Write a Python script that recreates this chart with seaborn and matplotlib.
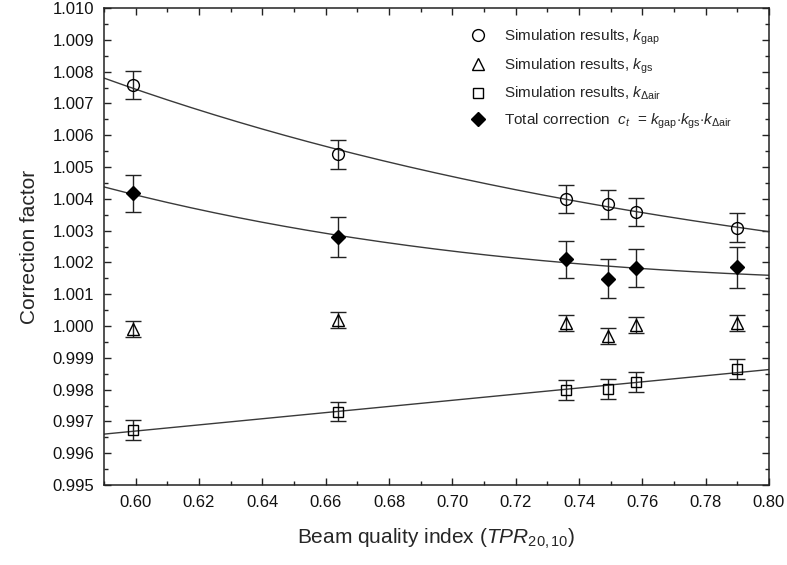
import numpy as np
import seaborn as sns
import matplotlib
matplotlib.use("Agg")
import matplotlib.pyplot as plt
from matplotlib.ticker import MultipleLocator, FormatStrFormatter

# data
tpr = [0.599, 0.664, 0.736, 0.749, 0.758, 0.790]
k_gap = [1.00758, 1.00540, 1.00399, 1.00383, 1.00358, 1.00309]
k_gap_err = [0.00043, 0.00045, 0.00044, 0.00045, 0.00043, 0.00045]
k_gs = [0.99990, 1.00020, 1.00010, 0.99969, 1.00003, 1.00010]
k_gs_err = [0.00025, 0.00025, 0.00026, 0.00026, 0.00026, 0.00026]
k_air = [0.99673, 0.99730, 0.99799, 0.99801, 0.99823, 0.99865]
k_air_err = [0.00030, 0.00030, 0.00031, 0.00031, 0.00031, 0.00031]
c_t = [1.00417, 1.00280, 1.00210, 1.00149, 1.00183, 1.00185]
c_t_err = [0.00057, 0.00062, 0.00058, 0.00062, 0.00059, 0.00064]

sns.set_theme(style="ticks")
plt.rcParams['font.family'] = ['Liberation Sans', 'DejaVu Sans']
plt.rcParams['mathtext.fontset'] = 'custom'
plt.rcParams['mathtext.rm'] = 'Liberation Sans'
plt.rcParams['mathtext.it'] = 'Liberation Sans:italic'
plt.rcParams['mathtext.bf'] = 'Liberation Sans:bold'

# fitted curves: exponential for k_gap, linear for k_air, product for c_t
x_fit = np.linspace(0.59, 0.80, 200)
b, a = np.polyfit(tpr, np.log(np.array(k_gap) - 1), 1)
gap_fit = 1 + np.exp(a + b * x_fit)
air_fit = np.polyval(np.polyfit(tpr, k_air, 1), x_fit)
ct_fit = gap_fit * air_fit * np.mean(k_gs)

fig = plt.figure(figsize=(7.87, 5.65), dpi=100)
ax = fig.add_axes([104 / 787, 1 - 485 / 565, 665 / 787, 477 / 565])

line_col = '#3a3a3a'
for yy in (gap_fit, ct_fit, air_fit):
    sns.lineplot(x=x_fit, y=yy, ax=ax, color=line_col, lw=1.0, zorder=1)

series = [
    (k_gap, k_gap_err, 'o', 'none', 8.5, r'Simulation results, $k_{\mathrm{gap}}$'),
    (k_gs, k_gs_err, '^', 'none', 8.5, r'Simulation results, $k_{\mathrm{gs}}$'),
    (k_air, k_air_err, 's', 'none', 7.5, r'Simulation results, $k_{\Delta\mathrm{air}}$'),
    (c_t, c_t_err, 'D', 'black', 7.0,
     r'Total correction  $c_t$  = $k_{\mathrm{gap}}$$\cdot$$k_{\mathrm{gs}}$$\cdot$$k_{\Delta\mathrm{air}}$'),
]
for vals, err, mk, fc, ms, lab in series:
    ax.errorbar(tpr, vals, yerr=err, fmt='none', ecolor='#222222', elinewidth=1.0,
                capsize=6, capthick=1.0, zorder=2)
    ax.plot(tpr, vals, linestyle='none', marker=mk, markersize=ms, markerfacecolor=fc,
            markeredgecolor='black', markeredgewidth=1.0, label=lab, zorder=3)

ax.set_xlim(0.59, 0.80)
ax.set_ylim(0.995, 1.010)
ax.xaxis.set_major_locator(MultipleLocator(0.02))
ax.xaxis.set_minor_locator(MultipleLocator(0.01))
ax.yaxis.set_major_locator(MultipleLocator(0.001))
ax.yaxis.set_minor_locator(MultipleLocator(0.0005))
ax.xaxis.set_major_formatter(FormatStrFormatter('%.2f'))
ax.yaxis.set_major_formatter(FormatStrFormatter('%.3f'))
ax.tick_params(which='both', direction='in', top=True, right=True, colors='#222222',
               labelcolor='#111111', labelsize=12)
ax.tick_params(which='major', length=5, width=1.0, pad=7)
ax.tick_params(which='minor', length=3, width=1.0)
for sp in ax.spines.values():
    sp.set_linewidth(1.1)
    sp.set_color('#222222')

ax.set_xlabel(r'Beam quality index ($\mathit{TPR}_{\mathrm{20,10}}$)', fontsize=15, labelpad=12)
ax.set_ylabel('Correction factor', fontsize=15, labelpad=10)

ax.legend(loc='upper left', bbox_to_anchor=(0.53, 0.972), frameon=False, fontsize=11,
          handletextpad=0.7, labelspacing=0.62, borderaxespad=0)

fig.savefig('out.png', dpi=100)
